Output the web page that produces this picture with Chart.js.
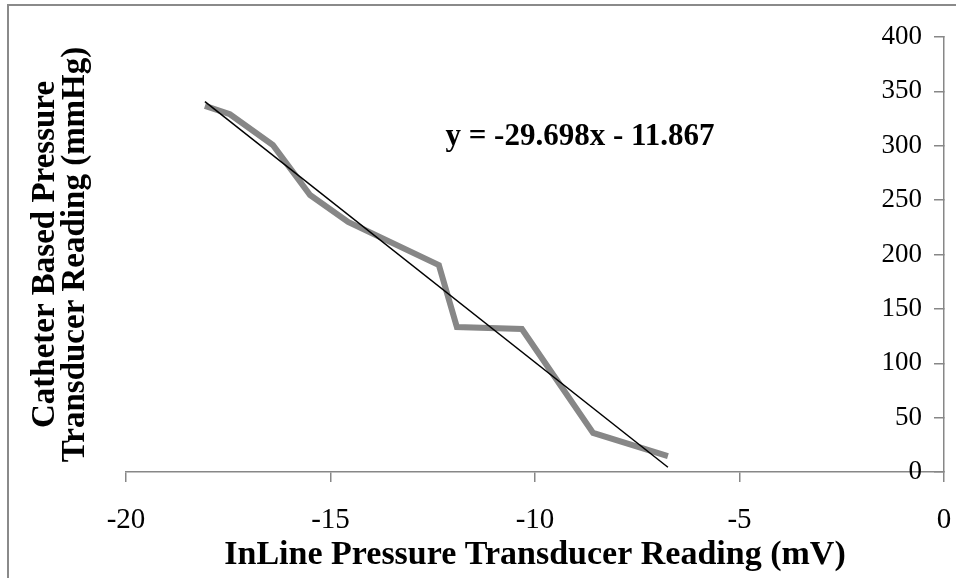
<!DOCTYPE html>
<html>
<head>
<meta charset="utf-8">
<script src="https://cdn.jsdelivr.net/npm/chart.js@4.4.0/dist/chart.umd.min.js"></script>
<style>
  html, body { margin: 0; padding: 0; background: #fff; }
  #wrap { position: relative; width: 956px; height: 578px; overflow: hidden; }
  #frame { position: absolute; left: 7px; top: 4px; width: 990px; height: 600px;
           border-left: 2px solid #8a8a8a; border-top: 2px solid #8a8a8a; }
  #chart { position: absolute; left: 0; top: 0; }
</style>
</head>
<body>
<div id="wrap">
  <div id="frame"></div>
  <canvas id="chart" width="956" height="578"></canvas>
</div>
<script>
// InLine transducer (mV) vs catheter reading (mmHg)
const inlineMv = [-18.07, -17.46, -16.41, -15.50, -14.57, -12.35, -11.91, -10.32, -8.58, -6.75];
const catheterMmHg = [336.6, 329.0, 300.7, 254.7, 230.0, 190.3, 133.3, 131.5, 35.9, 14.7];

const xTicks = [-20, -15, -10, -5, 0];
const yTicks = [0, 50, 100, 150, 200, 250, 300, 350, 400];

const trendSlope = -29.698;
const trendText = 'y = -29.698x - 11.867';
const xTitle = 'InLine Pressure Transducer Reading (mV)';
const yTitleLines = ['Catheter Based Pressure', 'Transducer Reading (mmHg)'];

Chart.defaults.font.family = '"Liberation Serif", "Times New Roman", serif';
Chart.defaults.color = '#000';

// trend line through the data centroid, spanning the measured range
const meanX = inlineMv.reduce((a, b) => a + b, 0) / inlineMv.length;
const meanY = catheterMmHg.reduce((a, b) => a + b, 0) / catheterMmHg.length;
const trendB = meanY - trendSlope * meanX;
const xLo = Math.min(...inlineMv);
const xHi = Math.max(...inlineMv);
const trendPts = [xLo, xHi].map(x => ({ x: x, y: trendSlope * x + trendB }));

const readings = inlineMv.map((x, i) => ({ x: x, y: catheterMmHg[i] }));

const axisGray = '#878787';

const labelsPlugin = {
    id: 'labelsPlugin',
    afterDraw(chart) {
        const ctx = chart.ctx;
        const area = chart.chartArea;
        ctx.save();
        ctx.fillStyle = '#000';
        ctx.textAlign = 'center';
        ctx.textBaseline = 'middle';

        // equation
        ctx.font = 'bold 31px "Liberation Serif", "Times New Roman", serif';
        ctx.fillText(trendText, 580, 137);

        // two-line vertical title on the left
        const midY = (area.top + area.bottom) / 2;
        const lineX = [45, 75];
        ctx.font = 'bold 33px "Liberation Serif", "Times New Roman", serif';
        yTitleLines.forEach((t, i) => {
            ctx.save();
            ctx.translate(lineX[i], midY);
            ctx.rotate(-Math.PI / 2);
            ctx.fillText(t, 0, 0);
            ctx.restore();
        });
        ctx.restore();
    }
};

new Chart(document.getElementById('chart'), {
    type: 'line',
    data: {
        datasets: [
            {
                data: trendPts,
                borderColor: '#000',
                borderWidth: 1.5,
                pointRadius: 0,
                tension: 0,
                order: 0,
                clip: false
            },
            {
                data: readings,
                borderColor: '#878787',
                borderWidth: 6,
                pointRadius: 0,
                tension: 0,
                order: 1,
                clip: false
            }
        ]
    },
    options: {
        responsive: false,
        animation: false,
        events: [],
        layout: { padding: { left: 126, right: 12, top: 37, bottom: 0 } },
        plugins: { legend: { display: false }, tooltip: { enabled: false } },
        scales: {
            x: {
                type: 'linear',
                min: xTicks[0],
                max: xTicks[xTicks.length - 1],
                afterBuildTicks: s => { s.ticks = xTicks.map(v => ({ value: v })); },
                afterFit: s => {
                    s.height = 106;
                    s.paddingLeft = 0;
                    s.paddingRight = 0;
                },
                grid: { drawOnChartArea: false, drawTicks: true, tickLength: 10, color: axisGray, lineWidth: 1.5 },
                border: { color: axisGray, width: 1.5 },
                ticks: { font: { size: 29 }, padding: 21, maxRotation: 0, color: '#000' },
                title: {
                    display: true,
                    text: xTitle,
                    color: '#000',
                    font: { size: 34, weight: 'bold' },
                    padding: { top: 0, bottom: 2 }
                }
            },
            y: {
                type: 'linear',
                position: 'right',
                min: yTicks[0],
                max: yTicks[yTicks.length - 1],
                afterBuildTicks: s => { s.ticks = yTicks.map(v => ({ value: v })); },
                afterFit: s => {
                    s.width = 0;
                    s.paddingTop = 0;
                    s.paddingBottom = 0;
                },
                // ticks point back into the plot, labels sit left of the axis line
                grid: { drawOnChartArea: false, drawTicks: true, tickLength: -10, color: axisGray, lineWidth: 1.5 },
                border: { color: axisGray, width: 1.5 },
                ticks: { font: { size: 27 }, mirror: true, padding: -22, color: '#000' }
            }
        }
    },
    plugins: [labelsPlugin]
});
</script>
</body>
</html>
